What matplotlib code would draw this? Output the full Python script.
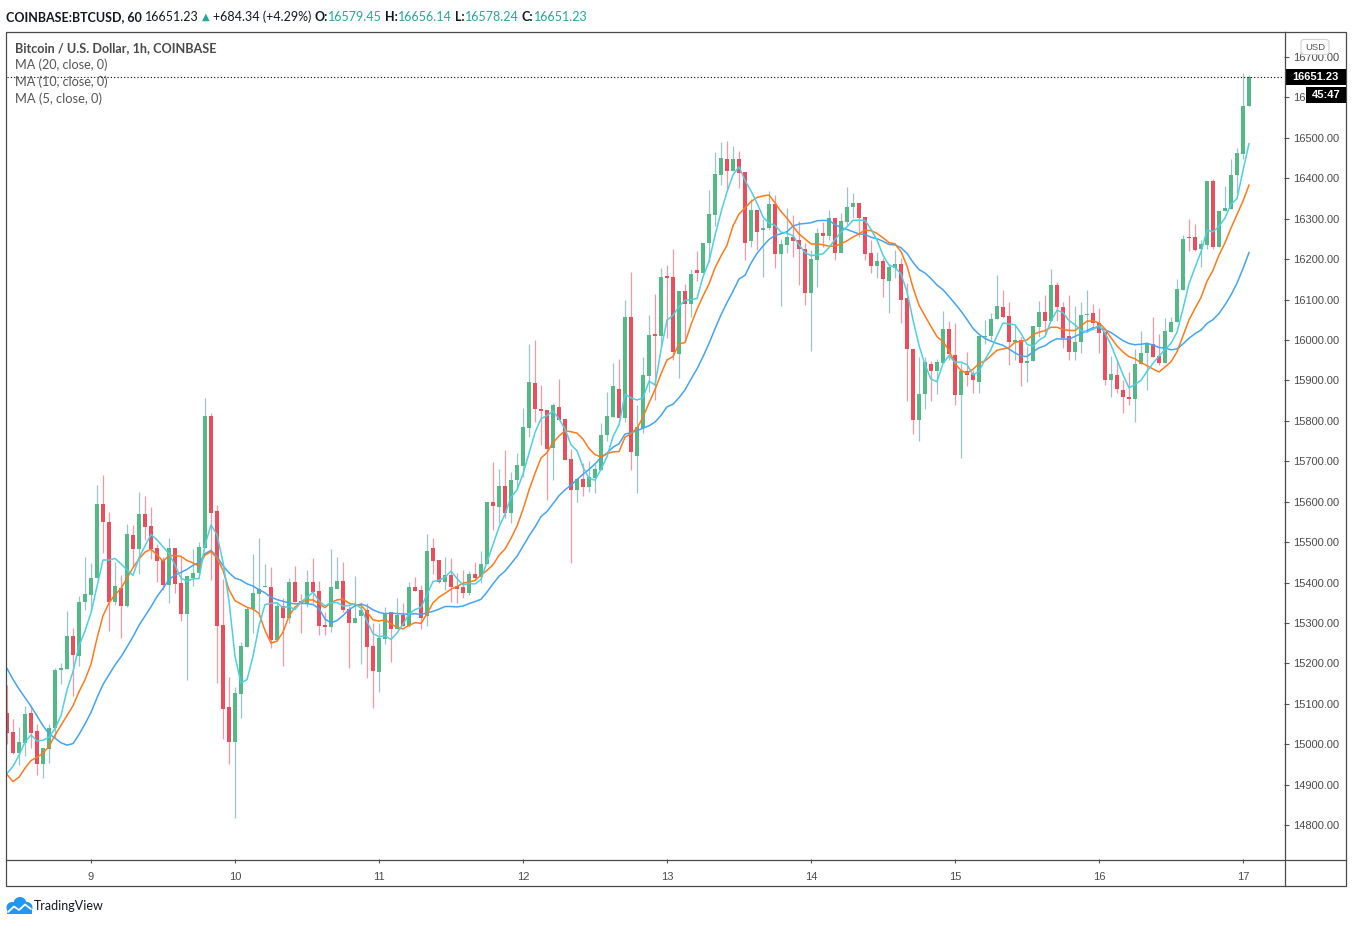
import numpy as np
import pandas as pd
import matplotlib
matplotlib.use("Agg")
import matplotlib.pyplot as plt
from matplotlib.patches import Rectangle, FancyBboxPatch, Circle

# ---------------- data (hourly candles, hour 0 = day 9 00:00) ----------------
first_hour = -14
opens = [
    15078, 15030, 14979, 15004, 15076, 15033, 14952, 14989, 15039, 15183, 15187, 15268,
    15219, 15351, 15370, 15410, 15594, 15549, 15353, 15387, 15343, 15518, 15482, 15570,
    15540, 15485, 15456, 15395, 15485, 15399, 15323, 15410, 15424, 15486, 15812, 15577,
    15295, 15092, 15006, 15125, 15241, 15334, 15372, 15388, 15389, 15258, 15342, 15313,
    15401, 15354, 15350, 15401, 15379, 15295, 15291, 15385, 15404, 15335, 15301, 15316,
    15332, 15243, 15179, 15261, 15327, 15286, 15320, 15292, 15388, 15381, 15316, 15485,
    15456, 15402, 15419, 15391, 15390, 15375, 15421, 15413, 15445, 15599, 15588, 15639,
    15573, 15654, 15689, 15783, 15894, 15829, 15827, 15734, 15834, 15805, 15706, 15630,
    15656, 15637, 15659, 15679, 15764, 15810, 15879, 15806, 16057, 15714, 15783, 15911,
    16015, 16009, 16159, 16156, 15966, 16121, 16090, 16173, 16167, 16239, 16310, 16409,
    16448, 16419, 16448, 16416, 16244, 16322, 16271, 16276, 16337, 16214, 16235, 16255,
    16248, 16225, 16117, 16199, 16265, 16258, 16302, 16216, 16293, 16328, 16339, 16305,
    16215, 16184, 16196, 16147, 16179, 16188, 16104, 15978, 15801, 15867, 15940, 15924,
    15944, 16027, 15963, 15865, 15924, 15916, 15897, 16007, 16009, 16051, 16081, 16060,
    15996, 16000, 15944, 15947, 16033, 16070, 16046, 16136, 16081, 16010, 15971, 15994,
    16061, 16066, 16041, 16020, 15900, 15914, 15876, 15858, 15855, 15940, 15967, 15990,
    15961, 15944, 16021, 16045, 16124, 16254, 16255, 16225, 16236, 16394, 16229, 16318,
    16325, 16407, 16461, 16579.45,
]
highs = [
    15146, 15062, 15043, 15094, 15094, 15049, 14990, 15049, 15189, 15200, 15330, 15288,
    15367, 15462, 15449, 15641, 15666, 15575, 15452, 15419, 15545, 15542, 15624, 15614,
    15587, 15495, 15464, 15510, 15485, 15464, 15416, 15483, 15500, 15857, 15820, 15592,
    15409, 15167, 15142, 15252, 15340, 15471, 15510, 15447, 15438, 15352, 15362, 15412,
    15442, 15372, 15431, 15461, 15404, 15328, 15483, 15463, 15451, 15342, 15416, 15352,
    15349, 15299, 15300, 15339, 15327, 15362, 15349, 15401, 15414, 15394, 15520, 15510,
    15456, 15463, 15460, 15423, 15431, 15428, 15451, 15478, 15599, 15697, 15681, 15728,
    15674, 15721, 15832, 15990, 16000, 15889, 15827, 15844, 15904, 15805, 15730, 15657,
    15695, 15701, 15693, 15795, 15871, 15943, 15952, 16099, 16168, 15838, 15959, 16062,
    16114, 16179, 16186, 16225, 16121, 16139, 16175, 16220, 16239, 16371, 16465, 16490,
    16493, 16479, 16468, 16416, 16349, 16322, 16299, 16369, 16359, 16250, 16327, 16310,
    16295, 16239, 16223, 16276, 16293, 16322, 16302, 16314, 16379, 16364, 16339, 16305,
    16248, 16218, 16204, 16187, 16223, 16203, 16140, 15978, 15957, 15958, 15949, 15952,
    16072, 16047, 16043, 15943, 15971, 15926, 16010, 16050, 16066, 16161, 16124, 16094,
    16037, 16007, 15984, 16035, 16097, 16112, 16176, 16144, 16093, 16112, 16084, 16095,
    16124, 16088, 16079, 16020, 15961, 15951, 15901, 15922, 15977, 16023, 15996, 16058,
    16015, 16055, 16058, 16151, 16260, 16300, 16287, 16248, 16394, 16399, 16319, 16381,
    16448, 16474, 16660, 16656.14,
]
lows = [
    15000, 14977, 14948, 14972, 14990, 14925, 14917, 14954, 15015, 15148, 15187, 15120,
    15194, 15332, 15330, 15410, 15474, 15281, 15344, 15262, 15339, 15442, 15420, 15504,
    15457, 15402, 15382, 15350, 15373, 15306, 15160, 15392, 15424, 15486, 15406, 15151,
    15014, 14950, 14817, 15066, 15241, 15276, 15322, 15388, 15239, 15258, 15194, 15299,
    15352, 15274, 15339, 15349, 15269, 15270, 15278, 15385, 15328, 15189, 15301, 15199,
    15165, 15090, 15128, 15249, 15203, 15286, 15292, 15291, 15380, 15286, 15293, 15422,
    15398, 15382, 15352, 15350, 15362, 15370, 15406, 15400, 15445, 15530, 15547, 15559,
    15548, 15632, 15662, 15761, 15796, 15740, 15603, 15654, 15801, 15702, 15448, 15600,
    15613, 15625, 15621, 15679, 15750, 15810, 15808, 15797, 15679, 15622, 15769, 15872,
    15852, 15984, 16004, 15951, 15905, 15996, 16056, 16145, 16165, 16192, 16281, 16383,
    16373, 16419, 16375, 16199, 16230, 16223, 16157, 16272, 16178, 16083, 16215, 16206,
    16135, 16087, 15974, 16130, 16229, 16248, 16198, 16216, 16285, 16301, 16256, 16198,
    16167, 16154, 16107, 16068, 16154, 16041, 15850, 15768, 15751, 15830, 15850, 15866,
    15944, 15951, 15839, 15707, 15885, 15868, 15870, 15989, 16000, 16051, 16054, 15938,
    15951, 15886, 15895, 15947, 16007, 16016, 16046, 16048, 15980, 15951, 15951, 15969,
    16021, 16025, 15969, 15889, 15860, 15868, 15820, 15838, 15796, 15940, 15876, 15957,
    15938, 15944, 16021, 16045, 16124, 16219, 16219, 16180, 16225, 16226, 16229, 16318,
    16325, 16363, 16447, 16578.24,
]
closes = [
    15028, 14979, 15005, 15075, 15028, 14952, 14990, 15039, 15184, 15189, 15268, 15221,
    15352, 15372, 15411, 15594, 15549, 15353, 15391, 15343, 15520, 15482, 15570, 15538,
    15484, 15454, 15395, 15485, 15397, 15323, 15416, 15424, 15488, 15812, 15573, 15293,
    15088, 15006, 15127, 15243, 15335, 15375, 15384, 15391, 15258, 15342, 15313, 15401,
    15352, 15350, 15401, 15377, 15293, 15291, 15388, 15404, 15333, 15301, 15312, 15332,
    15241, 15182, 15263, 15324, 15286, 15320, 15292, 15388, 15380, 15313, 15478, 15454,
    15402, 15419, 15389, 15385, 15375, 15421, 15412, 15446, 15599, 15589, 15639, 15573,
    15654, 15691, 15785, 15896, 15829, 15825, 15731, 15839, 15801, 15703, 15630, 15657,
    15637, 15661, 15681, 15765, 15812, 15886, 15808, 16057, 15722, 15785, 15913, 16013,
    16011, 16156, 16154, 15971, 16121, 16090, 16164, 16167, 16239, 16312, 16411, 16451,
    16419, 16448, 16414, 16241, 16322, 16268, 16277, 16337, 16214, 16238, 16255, 16246,
    16225, 16117, 16201, 16265, 16258, 16302, 16216, 16295, 16329, 16339, 16303, 16214,
    16184, 16196, 16151, 16181, 16188, 16100, 15977, 15803, 15867, 15946, 15924, 15945,
    16027, 15965, 15865, 15924, 15914, 15900, 16010, 16009, 16051, 16083, 16058, 15996,
    16000, 15944, 15948, 16035, 16070, 16046, 16136, 16081, 16006, 15971, 15995, 16062,
    16065, 16041, 16018, 15900, 15915, 15880, 15858, 15855, 15941, 15967, 15990, 15959,
    15944, 16022, 16045, 16126, 16250, 16253, 16223, 16238, 16394, 16231, 16319, 16327,
    16408, 16463, 16579, 16651.23,
]
# closes before the visible window (estimated from where the MA lines enter the chart)
warmup_closes = [15520, 15480, 15500, 15460, 15430, 15470, 15440, 15400, 15420, 15380,
                 15150, 14900, 14850, 14840, 14870, 14890, 14870, 14910, 14940]
ma_periods = [20, 10, 5]
ma_colors = ["#42a5f5", "#ff7a1a", "#4dd0e1"]
day_labels = [9, 10, 11, 12, 13, 14, 15, 16, 17]
price_ticks = list(range(14800, 16701, 100))
last_price = 16651.23

n = len(closes)
assert len(opens) == n and len(highs) == n and len(lows) == n, (len(opens), len(highs), len(lows), n)
hours = np.arange(first_hour, first_hour + n)

# ---------------- figure ----------------
W, H = 1353, 936
fig = plt.figure(figsize=(W / 100, H / 100), dpi=100)
fig.patch.set_facecolor("white")

L, R, T, B = 7, 1284, 32, 859
ax = fig.add_axes([L / W, 1 - B / H, (R - L) / W, (B - T) / H])
ax.set_facecolor("white")
ax.set_xlim(first_hour, first_hour + (R - L) / 6.0)
ax.set_ylim(14716, 16762)
for s in ax.spines.values():
    s.set_visible(False)

GREEN, RED = "#53b987", "#eb4d5c"
GWICK, RWICK = "#9cc3c6", "#f19aa5"
o = np.array(opens, float); c = np.array(closes, float)
h = np.array(highs, float); l = np.array(lows, float)
up = c >= o
ax.vlines(hours[up], l[up], h[up], color=GWICK, lw=0.9, zorder=2)
ax.vlines(hours[~up], l[~up], h[~up], color=RWICK, lw=0.9, zorder=2)
body_bot = np.minimum(o, c)
body_h = np.maximum(np.abs(c - o), 2.6)
ax.bar(hours[up], body_h[up], bottom=body_bot[up], width=0.8, color=GREEN, lw=0, zorder=3)
ax.bar(hours[~up], body_h[~up], bottom=body_bot[~up], width=0.8, color=RED, lw=0, zorder=3)

allc = pd.Series(warmup_closes + list(closes))
for p, col in zip(ma_periods, ma_colors):
    ma = allc.rolling(p).mean().to_numpy()[len(warmup_closes):]
    ax.plot(hours, ma, color=col, lw=1.1, zorder=4)

ax.axhline(last_price, color="black", lw=0.8, ls=(0, (1, 2)), zorder=5)

ax.set_yticks(price_ticks)
ax.set_yticklabels([f"{v:.2f}" for v in price_ticks])
ax.set_xticks([24 * i for i in range(len(day_labels))])
ax.set_xticklabels([str(d) for d in day_labels])
ax.tick_params(axis="y", left=False, right=True, labelleft=False, labelright=True,
               direction="out", length=3.8, width=0.8, color="#555555", pad=3,
               labelsize=8, labelcolor="#4a4a4a", labelfontfamily="Liberation Sans")
ax.tick_params(axis="x", direction="out", length=3.0, width=0.8, color="#555555", pad=6,
               labelsize=8, labelcolor="#4a4a4a", labelfontfamily="Liberation Sans")

# ---------------- overlay (pixel coordinates) ----------------
ov = fig.add_axes([0, 0, 1, 1], zorder=10)
ov.set_xlim(0, W); ov.set_ylim(H, 0); ov.axis("off")
FR = "#4a4a4a"
ov.add_patch(Rectangle((6, 32), 1340, 854, fill=False, ec=FR, lw=0.9))
ov.plot([1284.5, 1284.5], [32, 886], color=FR, lw=0.9)
ov.plot([6, 1346], [859.5, 859.5], color=FR, lw=0.9)

# price boxes
ov.add_patch(Rectangle((1285, 69), 61, 16, fc="black", ec="none"))
ov.text(1315.5, 77.5, "16651.23", color="white", fontsize=8, fontweight="bold",
        ha="center", va="center", family="Liberation Sans")
ov.add_patch(Rectangle((1306, 87), 40, 16, fc="black", ec="none"))
ov.text(1326, 95.5, "45:47", color="white", fontsize=8, fontweight="bold",
        ha="center", va="center", family="Liberation Sans")
ov.add_patch(FancyBboxPatch((1301, 39.5), 28, 15, boxstyle="round,pad=0,rounding_size=3",
                            fc="white", ec="#cfd2d6", lw=0.8))
ov.text(1315, 47.5, "USD", color="#555555", fontsize=6.8, ha="center", va="center",
        family="Liberation Sans")

renderer = fig.canvas.get_renderer()
FAM = ["Lato", "DejaVu Sans"]
TEAL = "#26a69a"


def place_row(pieces, x0, y, size):
    x = x0
    arts = []
    for txt, wt, col, gap, fam, scale in pieces:
        x += gap * size * 100 / 72
        t = ov.text(x, y, txt, fontsize=size * scale, fontweight=wt, color=col,
                    ha="left", va="center", family=fam)
        x += t.get_window_extent(renderer).width
        arts.append(t)
    return arts, x - x0


def fit_row(pieces, x0, y, target):
    arts, w = place_row(pieces, x0, y, 10)
    for a in arts:
        a.remove()
    place_row(pieces, x0, y, 10 * target / w)


SP = 0.25
header = [
    ("COINBASE:BTCUSD, 60", "bold", "#131722", 0, FAM, 1),
    ("16651.23", "normal", "#131722", SP, FAM, 1),
    ("\u25b2", "normal", TEAL, SP, ["DejaVu Sans"], 0.8),
    ("+684.34 (+4.29%)", "normal", "#131722", SP, FAM, 1),
    ("O:", "bold", "#131722", SP, FAM, 1),
    ("16579.45", "normal", TEAL, 0.02, FAM, 1),
    ("H:", "bold", "#131722", SP, FAM, 1),
    ("16656.14", "normal", TEAL, 0.02, FAM, 1),
    ("L:", "bold", "#131722", SP, FAM, 1),
    ("16578.24", "normal", TEAL, 0.02, FAM, 1),
    ("C:", "bold", "#131722", SP, FAM, 1),
    ("16651.23", "normal", TEAL, 0.02, FAM, 1),
]
fit_row(header, 6, 17, 584)

LEG = "#555555"
fit_row([("Bitcoin / U.S. Dollar, 1h, COINBASE", "bold", "#4a4a4a", 0, FAM, 1)], 15, 48, 202)
for yy, p in zip([65, 82, 99], ma_periods):
    fit_row([(f"MA ({p}, close, 0)", "normal", LEG, 0, FAM, 1)], 15, yy, 93 if p >= 10 else 87)

# TradingView logo + text
BLUE = "#2196f3"
for cx, cy, r in [(12, 907.5, 5.5), (20, 903.5, 6.5), (27, 907.5, 5.5)]:
    ov.add_patch(Circle((cx, cy), r, fc=BLUE, ec="none"))
ov.add_patch(Rectangle((7, 906), 25, 7.5, fc=BLUE, ec="none"))
ov.plot([8, 14, 19, 25, 31], [912, 906.5, 910, 904.5, 909], color="white", lw=1.3,
        solid_capstyle="round", solid_joinstyle="round")
fit_row([("TradingView", "normal", "#131722", 0, FAM, 1)], 34, 906, 70)

fig.savefig("out.png", dpi=100, facecolor="white")
